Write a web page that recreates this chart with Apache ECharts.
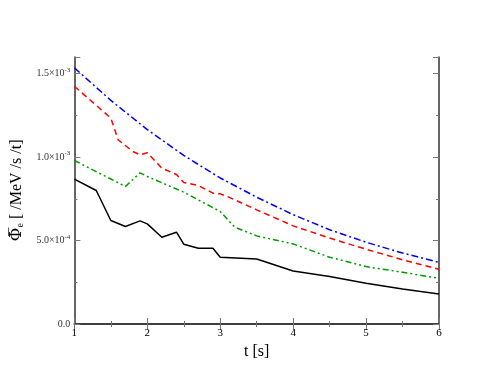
<!DOCTYPE html>
<html>
<head>
<meta charset="utf-8">
<script src="https://cdn.jsdelivr.net/npm/echarts@6/dist/echarts.min.js"></script>
<style>
  html, body { margin: 0; padding: 0; background: #fff; }
  #chart { width: 494px; height: 382px; }
</style>
</head>
<body>
<div id="chart"></div>
<script>
  // t [s] and flux [/MeV/s/t]
  const blackT = [1.0, 1.3, 1.5, 1.7, 1.9, 2.0, 2.2, 2.4, 2.5, 2.7, 2.9, 3.0, 3.5, 4.0, 4.5, 5.0, 5.5, 6.0];
  const blackFlux = [0.868e-3, 0.80e-3, 0.62e-3, 0.584e-3, 0.618e-3, 0.60e-3, 0.52e-3, 0.55e-3, 0.478e-3, 0.454e-3, 0.454e-3, 0.40e-3, 0.39e-3, 0.318e-3, 0.284e-3, 0.244e-3, 0.21e-3, 0.18e-3];

  const redT = [1.0, 1.5, 1.6, 1.8, 1.9, 2.0, 2.2, 2.4, 2.5, 2.7, 2.9, 3.0, 3.1, 3.5, 4.0, 4.5, 5.0, 5.5, 6.0];
  const redFlux = [1.424e-3, 1.234e-3, 1.104e-3, 1.034e-3, 1.014e-3, 1.026e-3, 0.934e-3, 0.896e-3, 0.848e-3, 0.83e-3, 0.784e-3, 0.78e-3, 0.764e-3, 0.684e-3, 0.588e-3, 0.515e-3, 0.448e-3, 0.385e-3, 0.328e-3];

  const blueT = [1.0, 1.5, 2.0, 2.5, 3.0, 3.5, 4.0, 4.5, 5.0, 5.5, 6.0];
  const blueFlux = [1.535e-3, 1.34e-3, 1.165e-3, 1.01e-3, 0.875e-3, 0.76e-3, 0.655e-3, 0.565e-3, 0.49e-3, 0.425e-3, 0.37e-3];

  const greenT = [1.0, 1.7, 1.9, 2.0, 2.5, 3.0, 3.2, 3.5, 4.0, 4.5, 5.0, 5.5, 6.0];
  const greenFlux = [0.98e-3, 0.824e-3, 0.906e-3, 0.884e-3, 0.79e-3, 0.674e-3, 0.58e-3, 0.528e-3, 0.48e-3, 0.40e-3, 0.344e-3, 0.31e-3, 0.274e-3];

  const FONT = '"Liberation Serif", "DejaVu Serif", serif';
  const AXIS_COLOR = '#333';

  function pairs(xs, ys) {
    return xs.map((x, i) => [x, ys[i]]);
  }

  function fluxLabel(v) {
    if (Math.abs(v) < 1e-12) return '0.0';
    if (v >= 1e-3 - 1e-12) return (v * 1e3).toFixed(1) + '×10{sup|-3}';
    return (v * 1e4).toFixed(1) + '×10{sup|-4}';
  }

  const frameAxis = {
    axisLine: { show: true, lineStyle: { color: AXIS_COLOR, width: 1.5 } },
    axisTick: { show: true, inside: true, length: 6, lineStyle: { color: '#777', width: 1 } },
    minorTick: { show: true, splitNumber: 2, length: 3, lineStyle: { color: '#777', width: 1 } },
    splitLine: { show: false },
  };

  function lineSeries(data, color, dash) {
    return {
      type: 'line',
      data: data,
      showSymbol: false,
      symbol: 'none',
      silent: true,
      animation: false,
      lineStyle: { color: color, width: 1.5, type: dash },
      xAxisIndex: 0,
      yAxisIndex: 0,
    };
  }

  const chart = echarts.init(document.getElementById('chart'), null, { renderer: 'canvas' });

  chart.setOption({
    backgroundColor: '#fff',
    animation: false,
    grid: { left: 68, right: 55, top: 57, bottom: 58 },
    xAxis: [
      Object.assign({}, frameAxis, {
        type: 'value',
        min: 1,
        max: 6,
        interval: 1,
        position: 'bottom',
        name: 't [s]',
        nameLocation: 'middle',
        nameGap: 20,
        nameTextStyle: { fontFamily: FONT, fontSize: 16, color: '#000' },
        axisLabel: { fontFamily: FONT, fontSize: 11, color: '#000', margin: 4 },
      }),
      Object.assign({}, frameAxis, {
        type: 'value',
        min: 1,
        max: 6,
        interval: 1,
        position: 'top',
        axisLabel: { show: false },
      }),
    ],
    yAxis: [
      Object.assign({}, frameAxis, {
        type: 'value',
        min: 0,
        max: 0.0016,
        interval: 0.0005,
        position: 'left',
        name: '{phi|Φ\u0305}{sub|e}{txt| [ /MeV /s /t]}',
        nameLocation: 'middle',
        nameGap: 44,
        nameRotate: 90,
        nameTextStyle: {
          fontFamily: FONT,
          color: '#000',
          rich: {
            phi: { fontFamily: '"DejaVu Serif", serif', fontSize: 17, color: '#000' },
            sub: { fontFamily: FONT, fontSize: 10, color: '#000', verticalAlign: 'bottom', padding: [8, 0, 0, 0] },
            txt: { fontFamily: FONT, fontSize: 16, color: '#000' },
          },
        },
        axisLabel: {
          fontFamily: FONT,
          fontSize: 10,
          color: '#333',
          margin: 4,
          showMaxLabel: false,
          formatter: fluxLabel,
          rich: {
            sup: { fontFamily: FONT, fontSize: 7, color: '#333', verticalAlign: 'top', padding: [0, 0, 7, 0] },
          },
        },
      }),
      Object.assign({}, frameAxis, {
        type: 'value',
        min: 0,
        max: 0.0016,
        interval: 0.0005,
        position: 'right',
        axisLabel: { show: false },
      }),
    ],
    series: [
      lineSeries(pairs(blueT, blueFlux), '#0000ff', [7, 3, 2, 3]),
      lineSeries(pairs(redT, redFlux), '#ff0000', [6, 4]),
      lineSeries(pairs(greenT, greenFlux), '#009900', [6, 3, 2, 3, 2, 3]),
      lineSeries(pairs(blackT, blackFlux), '#000000', 'solid'),
    ],
  });
</script>
</body>
</html>
